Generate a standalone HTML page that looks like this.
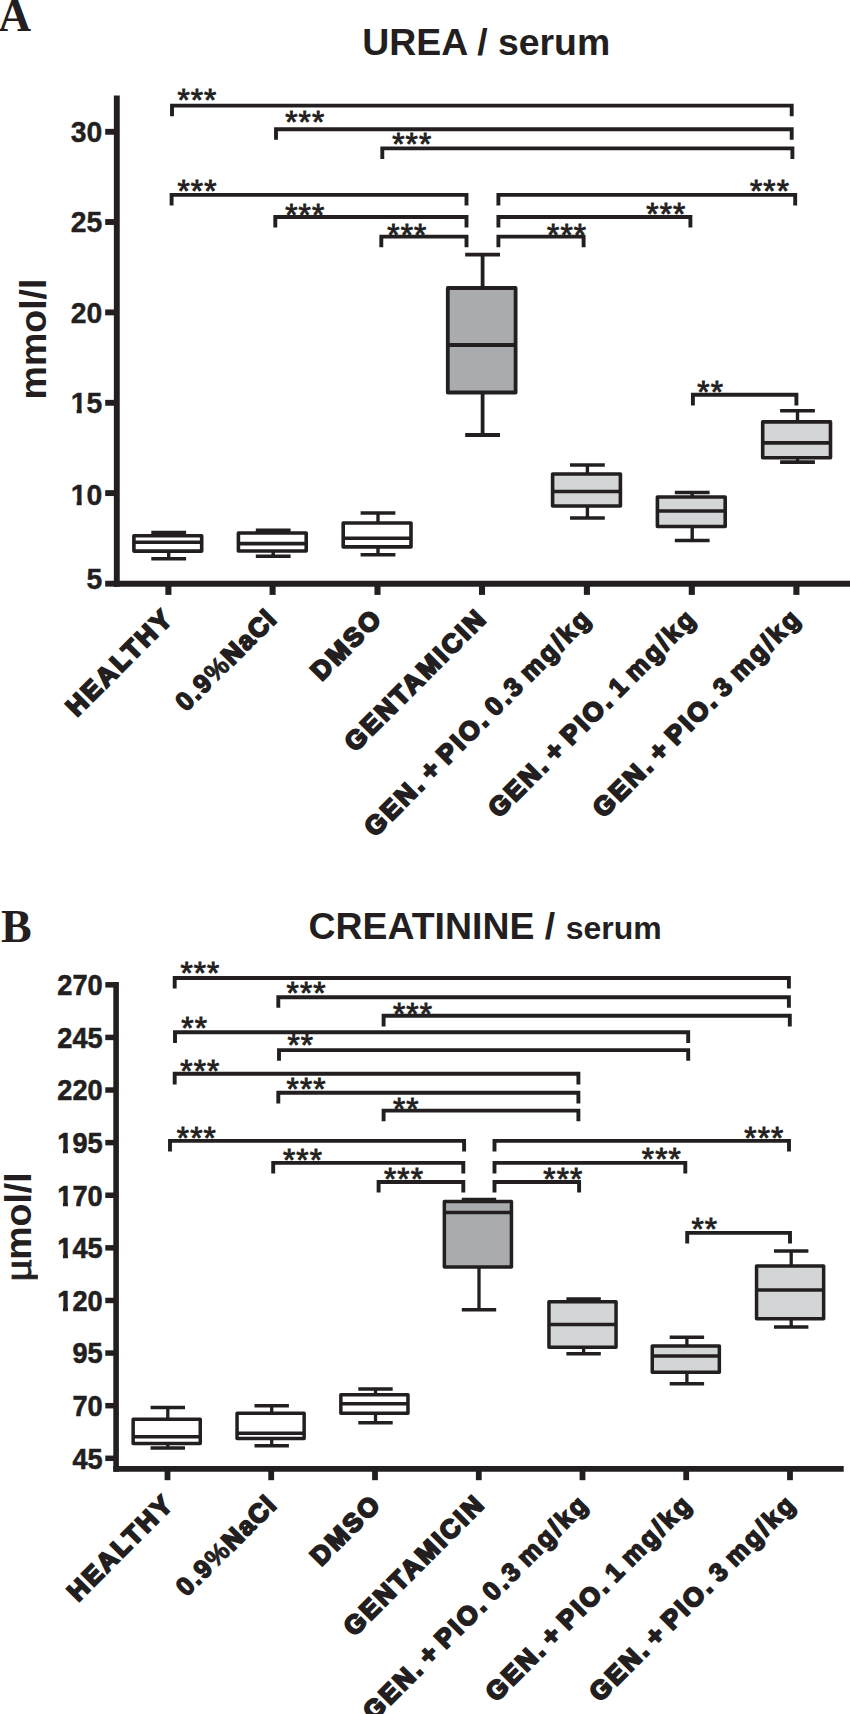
<!DOCTYPE html>
<html lang="en"><head><meta charset="utf-8"><title>Figure</title>
<style>html,body{margin:0;padding:0;background:#fff}svg{display:block}</style></head>
<body>
<svg width="850" height="1714" viewBox="0 0 850 1714">
<rect width="850" height="1714" fill="#ffffff"/>
<g id="panelA">
<text x="-1.8" y="30.6" font-family="'Liberation Serif', 'Times New Roman', serif" font-size="45.5" font-weight="bold" text-anchor="start" fill="#231f20">A</text>
<text x="362.2" y="54.9" font-family="'Liberation Sans', Arial, Helvetica, sans-serif" font-size="37.4" font-weight="bold" text-anchor="start" fill="#231f20">UREA / serum</text>
<line x1="116.8" y1="95.6" x2="116.8" y2="586.7" stroke="#231f20" stroke-width="5.9"/>
<line x1="113.85" y1="583.7" x2="850" y2="583.7" stroke="#231f20" stroke-width="6.0"/>
<line x1="105.2" y1="131.8" x2="116.8" y2="131.8" stroke="#231f20" stroke-width="5.9"/>
<text x="70.76" y="142.2" font-family="'Liberation Sans', Arial, Helvetica, sans-serif" font-size="29.7" font-weight="bold" text-anchor="start" fill="#231f20" textLength="31.54" lengthAdjust="spacingAndGlyphs" stroke="#231f20" stroke-width="0.4">30</text>
<line x1="105.2" y1="222" x2="116.8" y2="222" stroke="#231f20" stroke-width="5.9"/>
<text x="70.76" y="232.4" font-family="'Liberation Sans', Arial, Helvetica, sans-serif" font-size="29.7" font-weight="bold" text-anchor="start" fill="#231f20" textLength="31.54" lengthAdjust="spacingAndGlyphs" stroke="#231f20" stroke-width="0.4">25</text>
<line x1="105.2" y1="312.4" x2="116.8" y2="312.4" stroke="#231f20" stroke-width="5.9"/>
<text x="70.76" y="322.8" font-family="'Liberation Sans', Arial, Helvetica, sans-serif" font-size="29.7" font-weight="bold" text-anchor="start" fill="#231f20" textLength="31.54" lengthAdjust="spacingAndGlyphs" stroke="#231f20" stroke-width="0.4">20</text>
<line x1="105.2" y1="402.8" x2="116.8" y2="402.8" stroke="#231f20" stroke-width="5.9"/>
<text x="70.76" y="413.2" font-family="'Liberation Sans', Arial, Helvetica, sans-serif" font-size="29.7" font-weight="bold" text-anchor="start" fill="#231f20" textLength="31.54" lengthAdjust="spacingAndGlyphs" stroke="#231f20" stroke-width="0.4">15</text>
<rect x="70.96" y="409.1" width="5.7" height="5.4" fill="#ffffff"/>
<rect x="81.71" y="409.1" width="4.6" height="5.4" fill="#ffffff"/>
<line x1="105.2" y1="493.1" x2="116.8" y2="493.1" stroke="#231f20" stroke-width="5.9"/>
<text x="70.76" y="505.3" font-family="'Liberation Sans', Arial, Helvetica, sans-serif" font-size="29.7" font-weight="bold" text-anchor="start" fill="#231f20" textLength="31.54" lengthAdjust="spacingAndGlyphs" stroke="#231f20" stroke-width="0.4">10</text>
<rect x="70.96" y="501.2" width="5.7" height="5.4" fill="#ffffff"/>
<rect x="81.71" y="501.2" width="4.6" height="5.4" fill="#ffffff"/>
<line x1="105.2" y1="583.7" x2="116.8" y2="583.7" stroke="#231f20" stroke-width="5.9"/>
<text x="86.53" y="589.3" font-family="'Liberation Sans', Arial, Helvetica, sans-serif" font-size="29.7" font-weight="bold" text-anchor="start" fill="#231f20" textLength="15.77" lengthAdjust="spacingAndGlyphs" stroke="#231f20" stroke-width="0.4">5</text>
<line x1="168.4" y1="583.7" x2="168.4" y2="594.9" stroke="#231f20" stroke-width="6.1"/>
<line x1="272.6" y1="583.7" x2="272.6" y2="594.9" stroke="#231f20" stroke-width="6.1"/>
<line x1="377.5" y1="583.7" x2="377.5" y2="594.9" stroke="#231f20" stroke-width="6.1"/>
<line x1="482" y1="583.7" x2="482" y2="594.9" stroke="#231f20" stroke-width="6.1"/>
<line x1="586.9" y1="583.7" x2="586.9" y2="594.9" stroke="#231f20" stroke-width="6.1"/>
<line x1="691.8" y1="583.7" x2="691.8" y2="594.9" stroke="#231f20" stroke-width="6.1"/>
<line x1="796.4" y1="583.7" x2="796.4" y2="594.9" stroke="#231f20" stroke-width="6.1"/>
<text x="46.2" y="339" font-family="'Liberation Sans', Arial, Helvetica, sans-serif" font-size="37.5" font-weight="bold" text-anchor="middle" fill="#231f20" transform="rotate(-90 46.2 339)">mmol/l</text>
<line x1="168.7" y1="532.6" x2="168.7" y2="535.7" stroke="#231f20" stroke-width="3.4"/>
<line x1="168.7" y1="551.1" x2="168.7" y2="558.7" stroke="#231f20" stroke-width="3.4"/>
<line x1="151.3" y1="532.6" x2="186.1" y2="532.6" stroke="#231f20" stroke-width="3.6"/>
<line x1="151.3" y1="558.7" x2="186.1" y2="558.7" stroke="#231f20" stroke-width="3.6"/>
<rect x="133.9" y="535.7" width="67.8" height="15.4" fill="#ffffff" stroke="#231f20" stroke-width="3.6" stroke-linejoin="round"/>
<line x1="133.9" y1="542.3" x2="201.7" y2="542.3" stroke="#231f20" stroke-width="3.6"/>
<line x1="273.2" y1="530.2" x2="273.2" y2="533" stroke="#231f20" stroke-width="3.4"/>
<line x1="273.2" y1="551" x2="273.2" y2="556.3" stroke="#231f20" stroke-width="3.4"/>
<line x1="255.8" y1="530.2" x2="290.6" y2="530.2" stroke="#231f20" stroke-width="3.6"/>
<line x1="255.8" y1="556.3" x2="290.6" y2="556.3" stroke="#231f20" stroke-width="3.6"/>
<rect x="238.4" y="533" width="67.8" height="18" fill="#ffffff" stroke="#231f20" stroke-width="3.6" stroke-linejoin="round"/>
<line x1="238.4" y1="543.6" x2="306.2" y2="543.6" stroke="#231f20" stroke-width="3.6"/>
<line x1="378" y1="513" x2="378" y2="523" stroke="#231f20" stroke-width="3.4"/>
<line x1="378" y1="546.9" x2="378" y2="554.8" stroke="#231f20" stroke-width="3.4"/>
<line x1="360.6" y1="513" x2="395.4" y2="513" stroke="#231f20" stroke-width="3.6"/>
<line x1="360.6" y1="554.8" x2="395.4" y2="554.8" stroke="#231f20" stroke-width="3.6"/>
<rect x="343.2" y="523" width="67.8" height="23.9" fill="#ffffff" stroke="#231f20" stroke-width="3.6" stroke-linejoin="round"/>
<line x1="343.2" y1="538.3" x2="411" y2="538.3" stroke="#231f20" stroke-width="3.6"/>
<line x1="482.6" y1="254.6" x2="482.6" y2="288" stroke="#231f20" stroke-width="3.8"/>
<line x1="482.6" y1="392.5" x2="482.6" y2="435" stroke="#231f20" stroke-width="3.8"/>
<line x1="465.2" y1="254.6" x2="500" y2="254.6" stroke="#231f20" stroke-width="3.8"/>
<line x1="465.2" y1="435" x2="500" y2="435" stroke="#231f20" stroke-width="3.8"/>
<rect x="447.8" y="288" width="67.8" height="104.5" fill="#a9abae" stroke="#231f20" stroke-width="3.8" stroke-linejoin="round"/>
<line x1="447.8" y1="345" x2="515.6" y2="345" stroke="#231f20" stroke-width="3.8"/>
<line x1="587.4" y1="465" x2="587.4" y2="474" stroke="#231f20" stroke-width="3.4"/>
<line x1="587.4" y1="506" x2="587.4" y2="518" stroke="#231f20" stroke-width="3.4"/>
<line x1="570" y1="465" x2="604.8" y2="465" stroke="#231f20" stroke-width="3.6"/>
<line x1="570" y1="518" x2="604.8" y2="518" stroke="#231f20" stroke-width="3.6"/>
<rect x="552.6" y="474" width="67.8" height="32" fill="#d3d5d6" stroke="#231f20" stroke-width="3.6" stroke-linejoin="round"/>
<line x1="552.6" y1="491.5" x2="620.4" y2="491.5" stroke="#231f20" stroke-width="3.6"/>
<line x1="692.2" y1="492.5" x2="692.2" y2="497" stroke="#231f20" stroke-width="3.4"/>
<line x1="692.2" y1="526.5" x2="692.2" y2="540.5" stroke="#231f20" stroke-width="3.4"/>
<line x1="674.8" y1="492.5" x2="709.6" y2="492.5" stroke="#231f20" stroke-width="3.6"/>
<line x1="674.8" y1="540.5" x2="709.6" y2="540.5" stroke="#231f20" stroke-width="3.6"/>
<rect x="657.4" y="497" width="67.8" height="29.5" fill="#d3d5d6" stroke="#231f20" stroke-width="3.6" stroke-linejoin="round"/>
<line x1="657.4" y1="511" x2="725.2" y2="511" stroke="#231f20" stroke-width="3.6"/>
<line x1="797.5" y1="410.8" x2="797.5" y2="421.9" stroke="#231f20" stroke-width="3.4"/>
<line x1="797.5" y1="457.7" x2="797.5" y2="462.1" stroke="#231f20" stroke-width="3.4"/>
<line x1="780.1" y1="410.8" x2="814.9" y2="410.8" stroke="#231f20" stroke-width="3.6"/>
<line x1="780.1" y1="462.1" x2="814.9" y2="462.1" stroke="#231f20" stroke-width="3.6"/>
<rect x="762.7" y="421.9" width="67.8" height="35.8" fill="#d3d5d6" stroke="#231f20" stroke-width="3.6" stroke-linejoin="round"/>
<line x1="762.7" y1="442.9" x2="830.5" y2="442.9" stroke="#231f20" stroke-width="3.6"/>
<path d="M172 116.2V105.6H791.7V116.2" fill="none" stroke="#231f20" stroke-width="3.9"/>
<text x="177.4" y="110.6" font-family="'Liberation Sans', Arial, Helvetica, sans-serif" font-size="31.5" font-weight="normal" text-anchor="start" fill="#231f20" stroke="#231f20" stroke-width="0.9" letter-spacing="1.1">***</text>
<path d="M276 139.8V129.2H791.7V139.8" fill="none" stroke="#231f20" stroke-width="3.9"/>
<text x="285.2" y="132.6" font-family="'Liberation Sans', Arial, Helvetica, sans-serif" font-size="31.5" font-weight="normal" text-anchor="start" fill="#231f20" stroke="#231f20" stroke-width="0.9" letter-spacing="1.1">***</text>
<path d="M382.3 159V148.4H792.4V159" fill="none" stroke="#231f20" stroke-width="3.9"/>
<text x="392.2" y="155.2" font-family="'Liberation Sans', Arial, Helvetica, sans-serif" font-size="31.5" font-weight="normal" text-anchor="start" fill="#231f20" stroke="#231f20" stroke-width="0.9" letter-spacing="1.1">***</text>
<path d="M171.6 205.5V194.9H466.5V205.5" fill="none" stroke="#231f20" stroke-width="3.9"/>
<text x="177.5" y="202.2" font-family="'Liberation Sans', Arial, Helvetica, sans-serif" font-size="31.5" font-weight="normal" text-anchor="start" fill="#231f20" stroke="#231f20" stroke-width="0.9" letter-spacing="1.1">***</text>
<path d="M275.3 227.6V217H466.5V227.6" fill="none" stroke="#231f20" stroke-width="3.9"/>
<text x="285.2" y="225.8" font-family="'Liberation Sans', Arial, Helvetica, sans-serif" font-size="31.5" font-weight="normal" text-anchor="start" fill="#231f20" stroke="#231f20" stroke-width="0.9" letter-spacing="1.1">***</text>
<path d="M381.3 247.2V236.6H466.5V247.2" fill="none" stroke="#231f20" stroke-width="3.9"/>
<text x="387.3" y="245.5" font-family="'Liberation Sans', Arial, Helvetica, sans-serif" font-size="31.5" font-weight="normal" text-anchor="start" fill="#231f20" stroke="#231f20" stroke-width="0.9" letter-spacing="1.1">***</text>
<path d="M498.4 205.5V194.9H795.2V205.5" fill="none" stroke="#231f20" stroke-width="3.9"/>
<text x="750" y="202.2" font-family="'Liberation Sans', Arial, Helvetica, sans-serif" font-size="31.5" font-weight="normal" text-anchor="start" fill="#231f20" stroke="#231f20" stroke-width="0.9" letter-spacing="1.1">***</text>
<path d="M498.4 227.6V217H690.4V227.6" fill="none" stroke="#231f20" stroke-width="3.9"/>
<text x="646.3" y="224.8" font-family="'Liberation Sans', Arial, Helvetica, sans-serif" font-size="31.5" font-weight="normal" text-anchor="start" fill="#231f20" stroke="#231f20" stroke-width="0.9" letter-spacing="1.1">***</text>
<path d="M498.4 247.2V236.6H583.6V247.2" fill="none" stroke="#231f20" stroke-width="3.9"/>
<text x="547.1" y="245.8" font-family="'Liberation Sans', Arial, Helvetica, sans-serif" font-size="31.5" font-weight="normal" text-anchor="start" fill="#231f20" stroke="#231f20" stroke-width="0.9" letter-spacing="1.1">***</text>
<path d="M692.9 405.4V394.8H796.4V405.4" fill="none" stroke="#231f20" stroke-width="3.9"/>
<text x="697.3" y="402.6" font-family="'Liberation Sans', Arial, Helvetica, sans-serif" font-size="31.5" font-weight="normal" text-anchor="start" fill="#231f20" stroke="#231f20" stroke-width="0.9" letter-spacing="1.1">**</text>
<text x="175" y="619.3" font-family="'Liberation Sans', Arial, Helvetica, sans-serif" font-size="26" font-weight="bold" text-anchor="end" fill="#231f20" transform="rotate(-45 175 619.3)" stroke="#231f20" stroke-width="2.2" stroke-linejoin="miter" letter-spacing="2.6" word-spacing="-4.5">HEALTHY</text>
<text x="278.47" y="620.03" font-family="'Liberation Sans', Arial, Helvetica, sans-serif" font-size="26" font-weight="bold" text-anchor="end" fill="#231f20" transform="rotate(-45 278.47 620.03)" stroke="#231f20" stroke-width="2.2" stroke-linejoin="miter" letter-spacing="1.55" word-spacing="-4.5"><tspan stroke-width="1.5">0.9</tspan><tspan stroke-width="0.9">%</tspan><tspan stroke-width="2.2">N</tspan><tspan stroke-width="1.7">a</tspan><tspan stroke-width="2.2">C</tspan><tspan stroke-width="2.2">l</tspan></text>
<text x="384.1" y="619.3" font-family="'Liberation Sans', Arial, Helvetica, sans-serif" font-size="26" font-weight="bold" text-anchor="end" fill="#231f20" transform="rotate(-45 384.1 619.3)" stroke="#231f20" stroke-width="2.2" stroke-linejoin="miter" letter-spacing="2.6" word-spacing="-4.5">DMSO</text>
<text x="488.6" y="619.3" font-family="'Liberation Sans', Arial, Helvetica, sans-serif" font-size="26" font-weight="bold" text-anchor="end" fill="#231f20" transform="rotate(-45 488.6 619.3)" stroke="#231f20" stroke-width="2.2" stroke-linejoin="miter" letter-spacing="2.6" word-spacing="-4.5">GENTAMICIN</text>
<text x="593.5" y="619.3" font-family="'Liberation Sans', Arial, Helvetica, sans-serif" font-size="26" font-weight="bold" text-anchor="end" fill="#231f20" transform="rotate(-45 593.5 619.3)" stroke="#231f20" stroke-width="2.2" stroke-linejoin="miter" letter-spacing="2.6" word-spacing="-4.5"><tspan stroke-width="2.2">GEN. + PIO. </tspan><tspan stroke-width="1.7">0.3 mg/kg</tspan></text>
<text x="698.4" y="619.3" font-family="'Liberation Sans', Arial, Helvetica, sans-serif" font-size="26" font-weight="bold" text-anchor="end" fill="#231f20" transform="rotate(-45 698.4 619.3)" stroke="#231f20" stroke-width="2.2" stroke-linejoin="miter" letter-spacing="2.6" word-spacing="-4.5"><tspan stroke-width="2.2">GEN. + PIO. </tspan><tspan stroke-width="1.7">1 mg/kg</tspan></text>
<text x="803" y="619.3" font-family="'Liberation Sans', Arial, Helvetica, sans-serif" font-size="26" font-weight="bold" text-anchor="end" fill="#231f20" transform="rotate(-45 803 619.3)" stroke="#231f20" stroke-width="2.2" stroke-linejoin="miter" letter-spacing="2.6" word-spacing="-4.5"><tspan stroke-width="2.2">GEN. + PIO. </tspan><tspan stroke-width="1.7">3 mg/kg</tspan></text>
</g>
<g id="panelB">
<text x="1" y="941.5" font-family="'Liberation Serif', 'Times New Roman', serif" font-size="46" font-weight="bold" text-anchor="start" fill="#231f20">B</text>
<text x="308.6" y="938.9" font-family="'Liberation Sans', Arial, Helvetica, sans-serif" font-size="37.4" font-weight="bold" text-anchor="start" fill="#231f20">CREATININE / </text>
<text x="565.7" y="938.9" font-family="'Liberation Sans', Arial, Helvetica, sans-serif" font-size="32" font-weight="bold" text-anchor="start" fill="#231f20">serum</text>
<line x1="116.1" y1="982" x2="116.1" y2="1471.7" stroke="#231f20" stroke-width="5.6"/>
<line x1="113.3" y1="1468.9" x2="843.7" y2="1468.9" stroke="#231f20" stroke-width="5.6"/>
<line x1="105.3" y1="984.8" x2="116.1" y2="984.8" stroke="#231f20" stroke-width="5.5"/>
<text x="57.37" y="995.2" font-family="'Liberation Sans', Arial, Helvetica, sans-serif" font-size="29.7" font-weight="bold" text-anchor="start" fill="#231f20" textLength="45.33" lengthAdjust="spacingAndGlyphs" stroke="#231f20" stroke-width="0.6">270</text>
<line x1="105.3" y1="1037.41" x2="116.1" y2="1037.41" stroke="#231f20" stroke-width="5.5"/>
<text x="57.37" y="1047.81" font-family="'Liberation Sans', Arial, Helvetica, sans-serif" font-size="29.7" font-weight="bold" text-anchor="start" fill="#231f20" textLength="45.33" lengthAdjust="spacingAndGlyphs" stroke="#231f20" stroke-width="0.6">245</text>
<line x1="105.3" y1="1090.02" x2="116.1" y2="1090.02" stroke="#231f20" stroke-width="5.5"/>
<text x="57.37" y="1100.42" font-family="'Liberation Sans', Arial, Helvetica, sans-serif" font-size="29.7" font-weight="bold" text-anchor="start" fill="#231f20" textLength="45.33" lengthAdjust="spacingAndGlyphs" stroke="#231f20" stroke-width="0.6">220</text>
<line x1="105.3" y1="1142.63" x2="116.1" y2="1142.63" stroke="#231f20" stroke-width="5.5"/>
<text x="57.37" y="1153.03" font-family="'Liberation Sans', Arial, Helvetica, sans-serif" font-size="29.7" font-weight="bold" text-anchor="start" fill="#231f20" textLength="45.33" lengthAdjust="spacingAndGlyphs" stroke="#231f20" stroke-width="0.6">195</text>
<rect x="57.56" y="1148.93" width="5.37" height="5.4" fill="#ffffff"/>
<rect x="67.96" y="1148.93" width="4.41" height="5.4" fill="#ffffff"/>
<line x1="105.3" y1="1195.24" x2="116.1" y2="1195.24" stroke="#231f20" stroke-width="5.5"/>
<text x="57.37" y="1205.64" font-family="'Liberation Sans', Arial, Helvetica, sans-serif" font-size="29.7" font-weight="bold" text-anchor="start" fill="#231f20" textLength="45.33" lengthAdjust="spacingAndGlyphs" stroke="#231f20" stroke-width="0.6">170</text>
<rect x="57.56" y="1201.54" width="5.37" height="5.4" fill="#ffffff"/>
<rect x="67.96" y="1201.54" width="4.41" height="5.4" fill="#ffffff"/>
<line x1="105.3" y1="1247.85" x2="116.1" y2="1247.85" stroke="#231f20" stroke-width="5.5"/>
<text x="57.37" y="1258.25" font-family="'Liberation Sans', Arial, Helvetica, sans-serif" font-size="29.7" font-weight="bold" text-anchor="start" fill="#231f20" textLength="45.33" lengthAdjust="spacingAndGlyphs" stroke="#231f20" stroke-width="0.6">145</text>
<rect x="57.56" y="1254.15" width="5.37" height="5.4" fill="#ffffff"/>
<rect x="67.96" y="1254.15" width="4.41" height="5.4" fill="#ffffff"/>
<line x1="105.3" y1="1300.46" x2="116.1" y2="1300.46" stroke="#231f20" stroke-width="5.5"/>
<text x="57.37" y="1310.86" font-family="'Liberation Sans', Arial, Helvetica, sans-serif" font-size="29.7" font-weight="bold" text-anchor="start" fill="#231f20" textLength="45.33" lengthAdjust="spacingAndGlyphs" stroke="#231f20" stroke-width="0.6">120</text>
<rect x="57.56" y="1306.76" width="5.37" height="5.4" fill="#ffffff"/>
<rect x="67.96" y="1306.76" width="4.41" height="5.4" fill="#ffffff"/>
<line x1="105.3" y1="1353.07" x2="116.1" y2="1353.07" stroke="#231f20" stroke-width="5.5"/>
<text x="72.48" y="1363.47" font-family="'Liberation Sans', Arial, Helvetica, sans-serif" font-size="29.7" font-weight="bold" text-anchor="start" fill="#231f20" textLength="30.22" lengthAdjust="spacingAndGlyphs" stroke="#231f20" stroke-width="0.6">95</text>
<line x1="105.3" y1="1405.68" x2="116.1" y2="1405.68" stroke="#231f20" stroke-width="5.5"/>
<text x="72.48" y="1416.08" font-family="'Liberation Sans', Arial, Helvetica, sans-serif" font-size="29.7" font-weight="bold" text-anchor="start" fill="#231f20" textLength="30.22" lengthAdjust="spacingAndGlyphs" stroke="#231f20" stroke-width="0.6">70</text>
<line x1="105.3" y1="1458.29" x2="116.1" y2="1458.29" stroke="#231f20" stroke-width="5.5"/>
<text x="72.48" y="1468.69" font-family="'Liberation Sans', Arial, Helvetica, sans-serif" font-size="29.7" font-weight="bold" text-anchor="start" fill="#231f20" textLength="30.22" lengthAdjust="spacingAndGlyphs" stroke="#231f20" stroke-width="0.6">45</text>
<line x1="167.5" y1="1468.9" x2="167.5" y2="1480.2" stroke="#231f20" stroke-width="5.8"/>
<line x1="271.2" y1="1468.9" x2="271.2" y2="1480.2" stroke="#231f20" stroke-width="5.8"/>
<line x1="375" y1="1468.9" x2="375" y2="1480.2" stroke="#231f20" stroke-width="5.8"/>
<line x1="478.8" y1="1468.9" x2="478.8" y2="1480.2" stroke="#231f20" stroke-width="5.8"/>
<line x1="582.5" y1="1468.9" x2="582.5" y2="1480.2" stroke="#231f20" stroke-width="5.8"/>
<line x1="686.2" y1="1468.9" x2="686.2" y2="1480.2" stroke="#231f20" stroke-width="5.8"/>
<line x1="790" y1="1468.9" x2="790" y2="1480.2" stroke="#231f20" stroke-width="5.8"/>
<text x="30.8" y="1259.8" font-family="'Liberation Sans', Arial, Helvetica, sans-serif" font-size="37.5" font-weight="bold" text-anchor="start" fill="#231f20" transform="rotate(-90 30.8 1259.8)">mol/l</text>
<text transform="translate(30.8 1282.6) rotate(-90) scale(1.16 1.05)" x="0" y="0" font-family="'Liberation Serif', 'Times New Roman', serif" font-size="39" fill="#231f20" stroke="#231f20" stroke-width="0.8">μ</text>
<rect x="37.9" y="1268" width="5" height="16" fill="#ffffff"/>
<line x1="167.8" y1="1407.6" x2="167.8" y2="1419.2" stroke="#231f20" stroke-width="3.3"/>
<line x1="167.8" y1="1443.5" x2="167.8" y2="1447.9" stroke="#231f20" stroke-width="3.3"/>
<line x1="150.6" y1="1407.6" x2="185" y2="1407.6" stroke="#231f20" stroke-width="3.5"/>
<line x1="150.6" y1="1447.9" x2="185" y2="1447.9" stroke="#231f20" stroke-width="3.5"/>
<rect x="133.15" y="1419.2" width="67.1" height="24.3" fill="#ffffff" stroke="#231f20" stroke-width="3.5" stroke-linejoin="round"/>
<line x1="133.15" y1="1436.8" x2="200.25" y2="1436.8" stroke="#231f20" stroke-width="3.5"/>
<line x1="271.7" y1="1405.8" x2="271.7" y2="1413.2" stroke="#231f20" stroke-width="3.3"/>
<line x1="271.7" y1="1438.5" x2="271.7" y2="1445.7" stroke="#231f20" stroke-width="3.3"/>
<line x1="254.5" y1="1405.8" x2="288.9" y2="1405.8" stroke="#231f20" stroke-width="3.5"/>
<line x1="254.5" y1="1445.7" x2="288.9" y2="1445.7" stroke="#231f20" stroke-width="3.5"/>
<rect x="237.05" y="1413.2" width="67.1" height="25.3" fill="#ffffff" stroke="#231f20" stroke-width="3.5" stroke-linejoin="round"/>
<line x1="237.05" y1="1433.2" x2="304.15" y2="1433.2" stroke="#231f20" stroke-width="3.5"/>
<line x1="375.5" y1="1389" x2="375.5" y2="1394.7" stroke="#231f20" stroke-width="3.3"/>
<line x1="375.5" y1="1413.2" x2="375.5" y2="1422.8" stroke="#231f20" stroke-width="3.3"/>
<line x1="358.3" y1="1389" x2="392.7" y2="1389" stroke="#231f20" stroke-width="3.5"/>
<line x1="358.3" y1="1422.8" x2="392.7" y2="1422.8" stroke="#231f20" stroke-width="3.5"/>
<rect x="340.85" y="1394.7" width="67.1" height="18.5" fill="#ffffff" stroke="#231f20" stroke-width="3.5" stroke-linejoin="round"/>
<line x1="340.85" y1="1403.8" x2="407.95" y2="1403.8" stroke="#231f20" stroke-width="3.5"/>
<line x1="479" y1="1199.4" x2="479" y2="1201.6" stroke="#231f20" stroke-width="3.3"/>
<line x1="479" y1="1267" x2="479" y2="1309.7" stroke="#231f20" stroke-width="3.3"/>
<line x1="461.8" y1="1199.4" x2="496.2" y2="1199.4" stroke="#231f20" stroke-width="3.5"/>
<line x1="461.8" y1="1309.7" x2="496.2" y2="1309.7" stroke="#231f20" stroke-width="3.5"/>
<rect x="444.35" y="1201.6" width="67.1" height="65.4" fill="#a9abae" stroke="#231f20" stroke-width="3.5" stroke-linejoin="round"/>
<line x1="444.35" y1="1212.6" x2="511.45" y2="1212.6" stroke="#231f20" stroke-width="3.5"/>
<line x1="583.6" y1="1299" x2="583.6" y2="1301.8" stroke="#231f20" stroke-width="3.3"/>
<line x1="583.6" y1="1347.2" x2="583.6" y2="1353.8" stroke="#231f20" stroke-width="3.3"/>
<line x1="566.4" y1="1299" x2="600.8" y2="1299" stroke="#231f20" stroke-width="3.5"/>
<line x1="566.4" y1="1353.8" x2="600.8" y2="1353.8" stroke="#231f20" stroke-width="3.5"/>
<rect x="548.95" y="1301.8" width="67.1" height="45.4" fill="#d3d5d6" stroke="#231f20" stroke-width="3.5" stroke-linejoin="round"/>
<line x1="548.95" y1="1324.6" x2="616.05" y2="1324.6" stroke="#231f20" stroke-width="3.5"/>
<line x1="686.9" y1="1337.3" x2="686.9" y2="1346" stroke="#231f20" stroke-width="3.3"/>
<line x1="686.9" y1="1372.3" x2="686.9" y2="1383.8" stroke="#231f20" stroke-width="3.3"/>
<line x1="669.7" y1="1337.3" x2="704.1" y2="1337.3" stroke="#231f20" stroke-width="3.5"/>
<line x1="669.7" y1="1383.8" x2="704.1" y2="1383.8" stroke="#231f20" stroke-width="3.5"/>
<rect x="652.25" y="1346" width="67.1" height="26.3" fill="#d3d5d6" stroke="#231f20" stroke-width="3.5" stroke-linejoin="round"/>
<line x1="652.25" y1="1356" x2="719.35" y2="1356" stroke="#231f20" stroke-width="3.5"/>
<line x1="791.2" y1="1250.9" x2="791.2" y2="1265.9" stroke="#231f20" stroke-width="3.3"/>
<line x1="791.2" y1="1318.8" x2="791.2" y2="1327" stroke="#231f20" stroke-width="3.3"/>
<line x1="774" y1="1250.9" x2="808.4" y2="1250.9" stroke="#231f20" stroke-width="3.5"/>
<line x1="774" y1="1327" x2="808.4" y2="1327" stroke="#231f20" stroke-width="3.5"/>
<rect x="756.55" y="1265.9" width="67.1" height="52.9" fill="#d3d5d6" stroke="#231f20" stroke-width="3.5" stroke-linejoin="round"/>
<line x1="756.55" y1="1289.9" x2="823.65" y2="1289.9" stroke="#231f20" stroke-width="3.5"/>
<path d="M174.7 988.6V978H788.9V988.6" fill="none" stroke="#231f20" stroke-width="3.9"/>
<text x="180.4" y="984.3" font-family="'Liberation Sans', Arial, Helvetica, sans-serif" font-size="31.5" font-weight="normal" text-anchor="start" fill="#231f20" stroke="#231f20" stroke-width="0.9" letter-spacing="1.1">***</text>
<path d="M278.3 1007.8V997.2H788.9V1007.8" fill="none" stroke="#231f20" stroke-width="3.9"/>
<text x="286.6" y="1004.1" font-family="'Liberation Sans', Arial, Helvetica, sans-serif" font-size="31.5" font-weight="normal" text-anchor="start" fill="#231f20" stroke="#231f20" stroke-width="0.9" letter-spacing="1.1">***</text>
<path d="M383.6 1026.4V1015.8H789.8V1026.4" fill="none" stroke="#231f20" stroke-width="3.9"/>
<text x="393" y="1024.9" font-family="'Liberation Sans', Arial, Helvetica, sans-serif" font-size="31.5" font-weight="normal" text-anchor="start" fill="#231f20" stroke="#231f20" stroke-width="0.9" letter-spacing="1.1">***</text>
<path d="M175 1042.9V1032.3H688.2V1042.9" fill="none" stroke="#231f20" stroke-width="3.9"/>
<text x="181.3" y="1038.7" font-family="'Liberation Sans', Arial, Helvetica, sans-serif" font-size="31.5" font-weight="normal" text-anchor="start" fill="#231f20" stroke="#231f20" stroke-width="0.9" letter-spacing="1.1">**</text>
<path d="M279 1060.7V1050.1H688.2V1060.7" fill="none" stroke="#231f20" stroke-width="3.9"/>
<text x="287.5" y="1056.2" font-family="'Liberation Sans', Arial, Helvetica, sans-serif" font-size="31.5" font-weight="normal" text-anchor="start" fill="#231f20" stroke="#231f20" stroke-width="0.9" letter-spacing="1.1">**</text>
<path d="M174.7 1084.4V1073.8H578.4V1084.4" fill="none" stroke="#231f20" stroke-width="3.9"/>
<text x="180.3" y="1081.8" font-family="'Liberation Sans', Arial, Helvetica, sans-serif" font-size="31.5" font-weight="normal" text-anchor="start" fill="#231f20" stroke="#231f20" stroke-width="0.9" letter-spacing="1.1">***</text>
<path d="M278.3 1103.4V1092.8H578.4V1103.4" fill="none" stroke="#231f20" stroke-width="3.9"/>
<text x="286.6" y="1099.5" font-family="'Liberation Sans', Arial, Helvetica, sans-serif" font-size="31.5" font-weight="normal" text-anchor="start" fill="#231f20" stroke="#231f20" stroke-width="0.9" letter-spacing="1.1">***</text>
<path d="M383.6 1121.2V1110.6H578.4V1121.2" fill="none" stroke="#231f20" stroke-width="3.9"/>
<text x="393" y="1120.2" font-family="'Liberation Sans', Arial, Helvetica, sans-serif" font-size="31.5" font-weight="normal" text-anchor="start" fill="#231f20" stroke="#231f20" stroke-width="0.9" letter-spacing="1.1">**</text>
<path d="M170 1151.5V1140.9H464.1V1151.5" fill="none" stroke="#231f20" stroke-width="3.9"/>
<text x="176.8" y="1148.6" font-family="'Liberation Sans', Arial, Helvetica, sans-serif" font-size="31.5" font-weight="normal" text-anchor="start" fill="#231f20" stroke="#231f20" stroke-width="0.9" letter-spacing="1.1">***</text>
<path d="M273.2 1173.5V1162.9H463.3V1173.5" fill="none" stroke="#231f20" stroke-width="3.9"/>
<text x="283" y="1170.9" font-family="'Liberation Sans', Arial, Helvetica, sans-serif" font-size="31.5" font-weight="normal" text-anchor="start" fill="#231f20" stroke="#231f20" stroke-width="0.9" letter-spacing="1.1">***</text>
<path d="M378.6 1192.6V1182H463.3V1192.6" fill="none" stroke="#231f20" stroke-width="3.9"/>
<text x="384" y="1190.4" font-family="'Liberation Sans', Arial, Helvetica, sans-serif" font-size="31.5" font-weight="normal" text-anchor="start" fill="#231f20" stroke="#231f20" stroke-width="0.9" letter-spacing="1.1">***</text>
<path d="M494.5 1151.5V1140.9H789V1151.5" fill="none" stroke="#231f20" stroke-width="3.9"/>
<text x="744.3" y="1148.9" font-family="'Liberation Sans', Arial, Helvetica, sans-serif" font-size="31.5" font-weight="normal" text-anchor="start" fill="#231f20" stroke="#231f20" stroke-width="0.9" letter-spacing="1.1">***</text>
<path d="M494.5 1173.5V1162.9H685.3V1173.5" fill="none" stroke="#231f20" stroke-width="3.9"/>
<text x="641.8" y="1170.3" font-family="'Liberation Sans', Arial, Helvetica, sans-serif" font-size="31.5" font-weight="normal" text-anchor="start" fill="#231f20" stroke="#231f20" stroke-width="0.9" letter-spacing="1.1">***</text>
<path d="M494.5 1192.6V1182H579.1V1192.6" fill="none" stroke="#231f20" stroke-width="3.9"/>
<text x="543.3" y="1190.2" font-family="'Liberation Sans', Arial, Helvetica, sans-serif" font-size="31.5" font-weight="normal" text-anchor="start" fill="#231f20" stroke="#231f20" stroke-width="0.9" letter-spacing="1.1">***</text>
<path d="M687.2 1243.5V1232.9H790V1243.5" fill="none" stroke="#231f20" stroke-width="3.9"/>
<text x="691.4" y="1240.2" font-family="'Liberation Sans', Arial, Helvetica, sans-serif" font-size="31.5" font-weight="normal" text-anchor="start" fill="#231f20" stroke="#231f20" stroke-width="0.9" letter-spacing="1.1">**</text>
<text x="175.4" y="1505" font-family="'Liberation Sans', Arial, Helvetica, sans-serif" font-size="25.79" font-weight="bold" text-anchor="end" fill="#231f20" transform="rotate(-45 175.4 1505)" stroke="#231f20" stroke-width="2.2" stroke-linejoin="miter" letter-spacing="2.58" word-spacing="-4.46">HEALTHY</text>
<text x="278.37" y="1505.73" font-family="'Liberation Sans', Arial, Helvetica, sans-serif" font-size="25.79" font-weight="bold" text-anchor="end" fill="#231f20" transform="rotate(-45 278.37 1505.73)" stroke="#231f20" stroke-width="2.2" stroke-linejoin="miter" letter-spacing="1.54" word-spacing="-4.46"><tspan stroke-width="1.5">0.9</tspan><tspan stroke-width="0.9">%</tspan><tspan stroke-width="2.2">N</tspan><tspan stroke-width="1.7">a</tspan><tspan stroke-width="2.2">C</tspan><tspan stroke-width="2.2">l</tspan></text>
<text x="382.9" y="1505" font-family="'Liberation Sans', Arial, Helvetica, sans-serif" font-size="25.79" font-weight="bold" text-anchor="end" fill="#231f20" transform="rotate(-45 382.9 1505)" stroke="#231f20" stroke-width="2.2" stroke-linejoin="miter" letter-spacing="2.58" word-spacing="-4.46">DMSO</text>
<text x="486.7" y="1505" font-family="'Liberation Sans', Arial, Helvetica, sans-serif" font-size="25.79" font-weight="bold" text-anchor="end" fill="#231f20" transform="rotate(-45 486.7 1505)" stroke="#231f20" stroke-width="2.2" stroke-linejoin="miter" letter-spacing="2.58" word-spacing="-4.46">GENTAMICIN</text>
<text x="590.4" y="1505" font-family="'Liberation Sans', Arial, Helvetica, sans-serif" font-size="25.79" font-weight="bold" text-anchor="end" fill="#231f20" transform="rotate(-45 590.4 1505)" stroke="#231f20" stroke-width="2.2" stroke-linejoin="miter" letter-spacing="2.58" word-spacing="-4.46"><tspan stroke-width="2.2">GEN. + PIO. </tspan><tspan stroke-width="1.7">0.3 mg/kg</tspan></text>
<text x="694.1" y="1505" font-family="'Liberation Sans', Arial, Helvetica, sans-serif" font-size="25.79" font-weight="bold" text-anchor="end" fill="#231f20" transform="rotate(-45 694.1 1505)" stroke="#231f20" stroke-width="2.2" stroke-linejoin="miter" letter-spacing="2.58" word-spacing="-4.46"><tspan stroke-width="2.2">GEN. + PIO. </tspan><tspan stroke-width="1.7">1 mg/kg</tspan></text>
<text x="797.9" y="1505" font-family="'Liberation Sans', Arial, Helvetica, sans-serif" font-size="25.79" font-weight="bold" text-anchor="end" fill="#231f20" transform="rotate(-45 797.9 1505)" stroke="#231f20" stroke-width="2.2" stroke-linejoin="miter" letter-spacing="2.58" word-spacing="-4.46"><tspan stroke-width="2.2">GEN. + PIO. </tspan><tspan stroke-width="1.7">3 mg/kg</tspan></text>
</g>
</svg>
</body></html>
